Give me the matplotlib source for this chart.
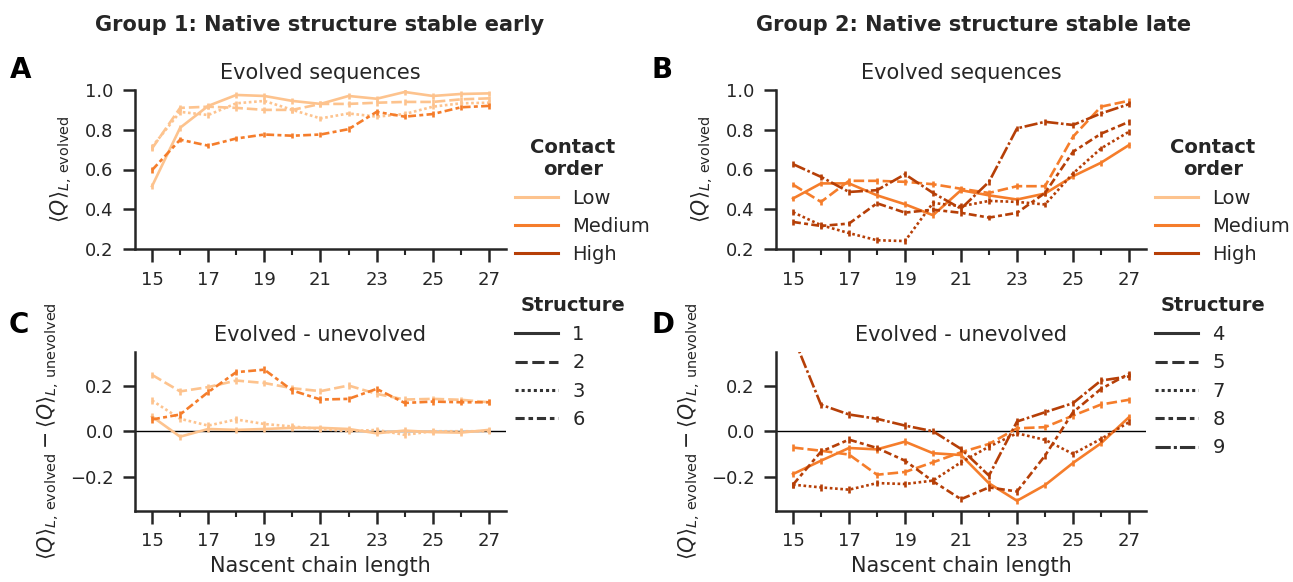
import matplotlib
matplotlib.use("Agg")
import matplotlib.pyplot as plt
from matplotlib.lines import Line2D

# ---------------- data ----------------
lengths = [15, 16, 17, 18, 19, 20, 21, 22, 23, 24, 25, 26, 27]
contact_orders = ["Low", "Medium", "High"]

# Group 1 (structures 1, 2, 3, 6)
g1_structures = ["1", "2", "3", "6"]
g1_contact = ["Low", "Low", "Low", "Medium"]
g1_evolved_1 = [0.516, 0.81, 0.92, 0.975, 0.97, 0.945, 0.93, 0.97, 0.956, 0.99, 0.97, 0.98, 0.983]
g1_evolved_2 = [0.706, 0.91, 0.916, 0.91, 0.90, 0.90, 0.93, 0.93, 0.936, 0.94, 0.94, 0.953, 0.958]
g1_evolved_3 = [0.714, 0.89, 0.874, 0.933, 0.945, 0.90, 0.857, 0.882, 0.866, 0.879, 0.916, 0.933, 0.936]
g1_evolved_6 = [0.597, 0.75, 0.72, 0.756, 0.776, 0.77, 0.776, 0.803, 0.89, 0.866, 0.879, 0.913, 0.92]
g1_diff_1 = [0.065, -0.024, 0.01, 0.006, 0.01, 0.015, 0.015, 0.01, -0.009, 0.003, -0.004, -0.006, 0.006]
g1_diff_2 = [0.249, 0.176, 0.195, 0.224, 0.213, 0.19, 0.177, 0.202, 0.165, 0.14, 0.143, 0.139, 0.128]
g1_diff_3 = [0.136, 0.055, 0.025, 0.052, 0.032, 0.021, 0.01, 0.0, 0.006, -0.016, 0.0, 0.0, 0.0]
g1_diff_6 = [0.052, 0.074, 0.173, 0.261, 0.272, 0.18, 0.14, 0.143, 0.187, 0.125, 0.131, 0.128, 0.128]

# Group 2 (structures 4, 5, 7, 8, 9)
g2_structures = ["4", "5", "7", "8", "9"]
g2_contact = ["Medium", "Medium", "High", "High", "High"]
g2_evolved_4 = [0.454, 0.53, 0.53, 0.47, 0.425, 0.37, 0.496, 0.47, 0.449, 0.479, 0.566, 0.634, 0.723]
g2_evolved_5 = [0.524, 0.437, 0.543, 0.543, 0.538, 0.526, 0.503, 0.482, 0.516, 0.516, 0.765, 0.916, 0.946]
g2_evolved_7 = [0.385, 0.32, 0.28, 0.244, 0.24, 0.432, 0.415, 0.442, 0.437, 0.424, 0.58, 0.706, 0.79]
g2_evolved_8 = [0.336, 0.316, 0.328, 0.43, 0.383, 0.398, 0.382, 0.358, 0.382, 0.482, 0.689, 0.78, 0.84]
g2_evolved_9 = [0.627, 0.563, 0.487, 0.496, 0.576, 0.482, 0.403, 0.538, 0.807, 0.84, 0.824, 0.882, 0.929]
g2_diff_4 = [-0.189, -0.13, -0.074, -0.08, -0.046, -0.097, -0.105, -0.23, -0.307, -0.238, -0.14, -0.053, 0.062]
g2_diff_5 = [-0.072, -0.086, -0.103, -0.192, -0.18, -0.137, -0.093, -0.056, 0.013, 0.018, 0.069, 0.118, 0.139]
g2_diff_7 = [-0.236, -0.248, -0.258, -0.229, -0.233, -0.218, -0.137, -0.068, -0.009, -0.038, -0.1, -0.034, 0.04]
g2_diff_8 = [-0.236, -0.09, -0.037, -0.074, -0.13, -0.221, -0.3, -0.248, -0.266, -0.108, 0.084, 0.187, 0.254]
g2_diff_9 = [0.42, 0.117, 0.074, 0.055, 0.025, 0.0, -0.078, -0.196, 0.043, 0.084, 0.124, 0.224, 0.242]

# approximate half-width of the small error bars drawn at each point
err_evolved = 0.014
err_diff = 0.014

g1_evolved = [g1_evolved_1, g1_evolved_2, g1_evolved_3, g1_evolved_6]
g1_diff = [g1_diff_1, g1_diff_2, g1_diff_3, g1_diff_6]
g2_evolved = [g2_evolved_4, g2_evolved_5, g2_evolved_7, g2_evolved_8, g2_evolved_9]
g2_diff = [g2_diff_4, g2_diff_5, g2_diff_7, g2_diff_8, g2_diff_9]

# ---------------- style ----------------
W, H = 1293, 582
TXT = "#262626"
COLORS = {"Low": "#fdc38e", "Medium": "#f57d2b", "High": "#b63f07"}
DASHES = [None, (4, 1.5), (1, 1), (3, 1.25, 1.5, 1.25), (5, 1, 1, 1)]
LW = 1.9

plt.rcParams.update({
    "font.family": "DejaVu Sans",
    "text.color": TXT,
    "axes.labelcolor": TXT,
    "xtick.color": TXT,
    "ytick.color": TXT,
    "axes.edgecolor": TXT,
    "mathtext.fontset": "dejavusans",
})

fig = plt.figure(figsize=(W / 100, H / 100), dpi=100)


def fx(px):
    return px / W


def fy(py):
    return 1 - py / H


def make_ax(left, right, top, bottom):
    return fig.add_axes([fx(left), fy(bottom), fx(right) - fx(left), fy(top) - fy(bottom)])


axA = make_ax(135.2, 505.8, 90, 249)
axB = make_ax(776.2, 1145.8, 90, 249)
axC = make_ax(135.2, 505.8, 352, 510.5)
axD = make_ax(776.2, 1145.8, 352, 510.5)


def draw(ax, series, contacts, err):
    for i, (ys, co) in enumerate(zip(series, contacts)):
        kw = dict(color=COLORS[co], lw=LW)
        if DASHES[i] is not None:
            kw["dashes"] = DASHES[i]
        ax.plot(lengths, ys, **kw)
        ax.errorbar(lengths, ys, yerr=err, fmt="none", ecolor=COLORS[co], elinewidth=LW,
                    capsize=0)


draw(axA, g1_evolved, g1_contact, err_evolved)
draw(axB, g2_evolved, g2_contact, err_evolved)
draw(axC, g1_diff, g1_contact, err_diff)
draw(axD, g2_diff, g2_contact, err_diff)

for ax in (axC, axD):
    ax.axhline(0, color="black", lw=1.0, zorder=0.5)

for ax in (axA, axB, axC, axD):
    ax.set_xlim(14.4, 27.6)
    ax.set_xticks([15, 17, 19, 21, 23, 25, 27])
    ax.set_xticks([16, 18, 20, 22, 24, 26], minor=True)
    for s in ("top", "right"):
        ax.spines[s].set_visible(False)
    for s in ("left", "bottom"):
        ax.spines[s].set_linewidth(1.8)
    ax.tick_params(which="major", length=9, width=1.8, pad=6.5, labelsize=13)
    ax.tick_params(which="minor", length=4.5, width=1.5)

for ax in (axA, axB):
    ax.set_ylim(0.2, 1.0)
    ax.set_yticks([0.2, 0.4, 0.6, 0.8, 1.0])
    ax.set_title("Evolved sequences", fontsize=15, pad=8, color=TXT)
    ax.set_ylabel(r"$\langle Q\rangle_{L,\,\mathrm{evolved}}$", fontsize=14.8)
    ax.yaxis.set_label_coords(-0.162, 0.5)

for ax in (axC, axD):
    ax.set_ylim(-0.35, 0.35)
    ax.set_yticks([-0.2, 0.0, 0.2])
    ax.set_title("Evolved - unevolved", fontsize=15, pad=8, color=TXT)
    ax.set_xlabel("Nascent chain length", fontsize=15)
    ax.set_ylabel(r"$\langle Q\rangle_{L,\,\mathrm{evolved}} - \langle Q\rangle_{L,\,\mathrm{unevolved}}$",
                  fontsize=14.8)
    ax.yaxis.set_label_coords(-0.197, 0.5)

# group titles
fig.text(fx(320), fy(31), "Group 1: Native structure stable early", ha="center",
         va="baseline", fontsize=15, fontweight="bold")
fig.text(fx(974), fy(31), "Group 2: Native structure stable late", ha="center",
         va="baseline", fontsize=15, fontweight="bold")

# panel letters
for lbl, x, y in (("A", 10, 78), ("B", 652, 78), ("C", 9, 333), ("D", 652, 333)):
    fig.text(fx(x), fy(y), lbl, ha="left", va="baseline", fontsize=20, fontweight="bold",
             color="black")


# legends
def legends(x_handle, x_title, structures):
    fig.text(fx(x_title), fy(153), "Contact", ha="center", va="baseline", fontsize=14,
             fontweight="bold")
    fig.text(fx(x_title), fy(175), "order", ha="center", va="baseline", fontsize=14,
             fontweight="bold")
    h1 = [Line2D([], [], color=COLORS[c], lw=2.2) for c in contact_orders]
    fig.legend(h1, contact_orders, loc="upper left", bbox_to_anchor=(fx(x_handle), fy(188.5)),
               bbox_transform=fig.transFigure, frameon=False, borderpad=0, borderaxespad=0,
               handlelength=2.2, handletextpad=0.75, labelspacing=0.48, fontsize=14)
    fig.text(fx(x_title), fy(311), "Structure", ha="center", va="baseline", fontsize=14,
             fontweight="bold")
    h2 = []
    for i, s in enumerate(structures):
        kw = dict(color="#333333", lw=2.2)
        if DASHES[i] is not None:
            kw["dashes"] = DASHES[i]
        h2.append(Line2D([], [], **kw))
    fig.legend(h2, structures, loc="upper left", bbox_to_anchor=(fx(x_handle), fy(325)),
               bbox_transform=fig.transFigure, frameon=False, borderpad=0, borderaxespad=0,
               handlelength=2.2, handletextpad=0.75, labelspacing=0.48, fontsize=14)


legends(515, 573, g1_structures)
legends(1155, 1213, g2_structures)

fig.savefig("out.png", dpi=100)
